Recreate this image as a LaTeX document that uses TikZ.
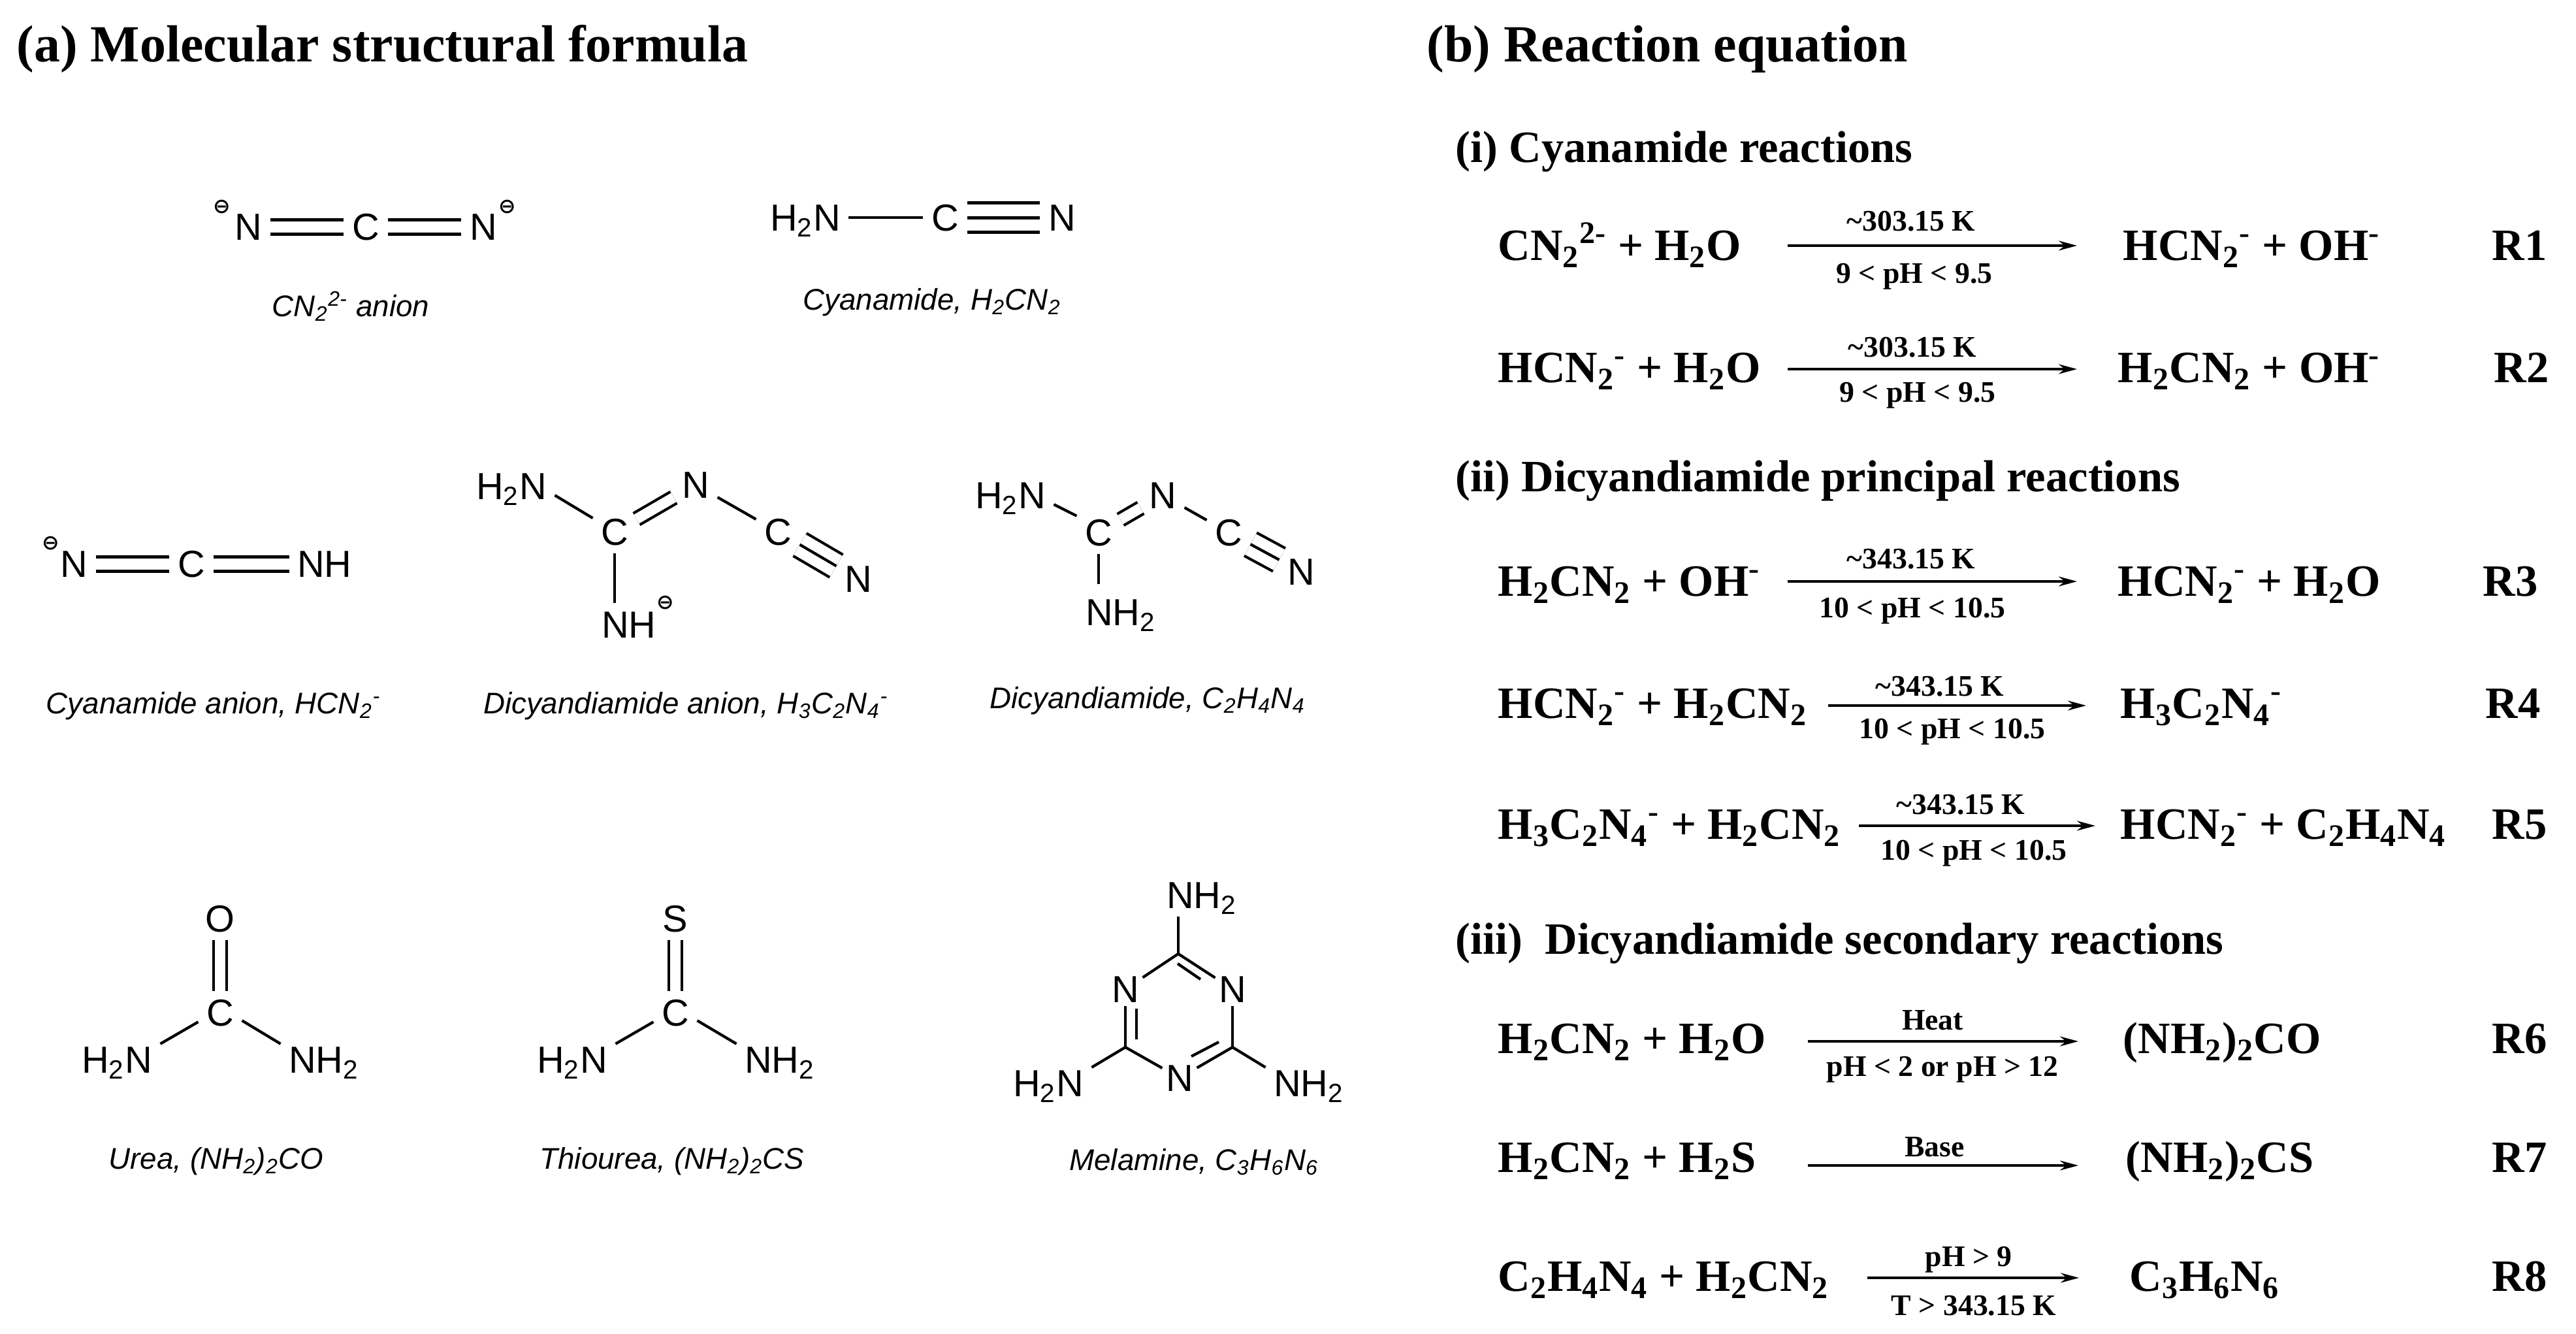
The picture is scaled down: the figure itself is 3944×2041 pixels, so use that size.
\documentclass[tikz,border=0pt]{standalone}
\usepackage{fontspec}
\setmainfont{Liberation Serif}
\setsansfont{Liberation Sans}
\newfontfamily\chargefont{DejaVu Sans Bold}
\usetikzlibrary{arrows.meta,positioning}
\newcommand{\Low}[1]{\textsubscript{#1}}
\newcommand{\High}[1]{\textsuperscript{#1}}
\tikzstyle{Atom} = [inner sep=0.12cm, text height=0.41cm, text depth=0pt, font=\sffamily\fontsize{16.4pt}{18pt}\selectfont]
\tikzstyle{RingAtom} = [Atom, inner sep=0.05cm]
\tikzstyle{Charge} = [inner sep=0pt, font=\chargefont\fontsize{9pt}{10pt}\selectfont]
\tikzstyle{Caption} = [inner sep=0pt, text height=0.36cm, text depth=0.12cm, font=\sffamily\itshape\fontsize{13pt}{15pt}\selectfont]
\tikzstyle{Title} = [anchor=west, inner sep=0pt, text height=0.53cm, text depth=0pt, font=\bfseries\fontsize{22.7pt}{26pt}\selectfont]
\tikzstyle{Sub} = [Title, text height=0.45cm, font=\bfseries\fontsize{19.5pt}{23pt}\selectfont]
\tikzstyle{Eq} = [anchor=west, inner sep=0pt, text height=0.45cm, text depth=0pt, font=\bfseries\fontsize{19.5pt}{23pt}\selectfont]
\tikzstyle{Cond} = [inner sep=0pt, text height=0.31cm, text depth=0pt, font=\bfseries\fontsize{13pt}{15pt}\selectfont]
\tikzstyle{Bond} = [line width=0.042cm]
\tikzstyle{Double} = [Bond, double, double distance between line centers=0.2cm]
\tikzstyle{LongDouble} = [line width=0.05cm, double, double distance between line centers=0.22cm]
\tikzstyle{Triple} = [Bond, double, double distance between line centers=0.4cm]
\tikzstyle{LongTriple} = [line width=0.05cm, double, double distance between line centers=0.45cm]
\tikzstyle{Arrow} = [line width=0.035cm, -{Stealth[length=0.28cm,width=0.15cm]}]

\begin{document}
\begin{tikzpicture}[x=0.01cm, y=-0.01cm]
  \useasboundingbox (0,0) rectangle (3944,2041);
  \node[Title] (t_a) at (25,68) {(a) Molecular structural formula};
  \node[Title] (t_b) at (2184,68) {(b) Reaction equation};

  % anion CN2
  \node[Atom] (a1_n1) at (380,347) {N};
  \node[Atom] (a1_c)  at (560,347) {C};
  \node[Atom] (a1_n2) at (740,347) {N};
  \node[Charge] (a1_q1) at (340,317) {⊖};
  \node[Charge] (a1_q2) at (777,317) {⊖};
  \node[Caption] (a1_cap) at (537,472) {CN\Low{2}\High{2-} anion};
  \draw[LongDouble] (a1_n1) -- (a1_c);
  \draw[LongDouble] (a1_c) -- (a1_n2);

  % cyanamide
  \node[Atom] (a2_h) at (1233,333) {H\Low{2}N};
  \node[Atom] (a2_c) at (1447,333) {C};
  \node[Atom] (a2_n) at (1626,333) {N};
  \node[Caption] (a2_cap) at (1427,462) {Cyanamide, H\Low{2}CN\Low{2}};
  \draw[Bond] (a2_h) -- (a2_c);
  \draw[LongTriple] (a2_c) -- (a2_n);
  \draw[line width=0.05cm] (a2_c) -- (a2_n);

  % cyanamide anion
  \node[Atom] (a3_n) at (113,863) {N};
  \node[Atom] (a3_c) at (293,863) {C};
  \node[Atom] (a3_h) at (497,863) {NH};
  \node[Charge] (a3_q) at (78,832) {⊖};
  \node[Caption] (a3_cap) at (327,1080) {Cyanamide anion, HCN\Low{2}\High{-}};
  \draw[LongDouble] (a3_n) -- (a3_c);
  \draw[LongDouble] (a3_c) -- (a3_h);

  % dicyandiamide anion
  \node[Atom] (a4_h)  at (783,744) {H\Low{2}N};
  \node[Atom] (a4_c1) at (941,814) {C};
  \node[Atom] (a4_n1) at (1065,742) {N};
  \node[Atom] (a4_c2) at (1191,814) {C};
  \node[Atom] (a4_n2) at (1314,886) {N};
  \node[Atom] (a4_m)  at (963,956) {NH};
  \node[Charge] (a4_q) at (1019,923) {⊖};
  \node[Caption] (a4_cap) at (1050,1080) {Dicyandiamide anion, H\Low{3}C\Low{2}N\Low{4}\High{-}};
  \draw[Bond] (a4_h.-12) -- (a4_c1.148);
  \draw[Double] (a4_c1) -- (a4_n1);
  \draw[Bond] (a4_n1) -- (a4_c2);
  \draw[Triple] (a4_c2) -- (a4_n2);
  \draw[Bond] (a4_c2) -- (a4_n2);
  \draw[Bond] (a4_c1) -- (a4_c1 |- a4_m.north);

  % dicyandiamide
  \node[Atom] (a5_h)  at (1547,758) {H\Low{2}N};
  \node[Atom] (a5_c1) at (1682,815) {C};
  \node[Atom] (a5_n1) at (1780,758) {N};
  \node[Atom] (a5_c2) at (1881,815) {C};
  \node[Atom] (a5_n2) at (1992,875) {N};
  \node[Atom] (a5_m)  at (1716,937) {NH\Low{2}};
  \node[Caption] (a5_cap) at (1757,1072) {Dicyandiamide, C\Low{2}H\Low{4}N\Low{4}};
  \draw[Bond] (a5_h.-12) -- (a5_c1.143);
  \draw[Double] (a5_c1) -- (a5_n1);
  \draw[Bond] (a5_n1) -- (a5_c2);
  \draw[Triple] (a5_c2) -- (a5_n2);
  \draw[Bond] (a5_c2) -- (a5_n2);
  \draw[Bond, shorten >=0.1cm] (a5_c1) -- (a5_c1 |- a5_m.north);

  % urea
  \node[Atom] (a6_o) at (337,1406) {O};
  \node[Atom] (a6_c) at (337,1550) {C};
  \node[Atom] (a6_h) at (179,1622) {H\Low{2}N};
  \node[Atom] (a6_m) at (496,1622) {NH\Low{2}};
  \node[Caption] (a6_cap) at (331,1777) {Urea, (NH\Low{2})\Low{2}CO};
  \draw[Double] (a6_o) -- (a6_c);
  \draw[Bond] (a6_c.203) -- (a6_h.20);
  \draw[Bond] (a6_c.-20) -- (a6_m.160);

  % thiourea
  \node[Atom] (a7_s) at (1034,1406) {S};
  \node[Atom] (a7_c) at (1034,1550) {C};
  \node[Atom] (a7_h) at (876,1622) {H\Low{2}N};
  \node[Atom] (a7_m) at (1194,1622) {NH\Low{2}};
  \node[Caption] (a7_cap) at (1029,1777) {Thiourea, (NH\Low{2})\Low{2}CS};
  \draw[Double] (a7_s) -- (a7_c);
  \draw[Bond] (a7_c.203) -- (a7_h.20);
  \draw[Bond] (a7_c.-20) -- (a7_m.160);

  % melamine
  \coordinate (a8_c1) at (1804,1460);
  \coordinate (a8_c2) at (1723,1603);
  \coordinate (a8_c3) at (1887,1603);
  \coordinate (a8_i1) at (1803,1475);
  \coordinate (a8_i2) at (1838,1499);
  \coordinate (a8_i3) at (1740,1544);
  \coordinate (a8_i4) at (1740,1591);
  \coordinate (a8_i5) at (1866,1595);
  \coordinate (a8_i6) at (1824,1617);
  \node[RingAtom] (a8_n1) at (1723,1514) {N};
  \node[RingAtom] (a8_n2) at (1887,1514) {N};
  \node[RingAtom] (a8_n3) at (1806,1650) {N};
  \node[Atom] (a8_m1) at (1840,1370) {NH\Low{2}};
  \node[Atom] (a8_m2) at (1605,1658) {H\Low{2}N};
  \node[Atom] (a8_m3) at (2004,1658) {NH\Low{2}};
  \node[Caption] (a8_cap) at (1828,1779) {Melamine, C\Low{3}H\Low{6}N\Low{6}};
  \draw[Bond] (a8_c1) -- (a8_c1 |- a8_m1.south);
  \draw[Bond] (a8_c1) -- (a8_n1);
  \draw[Bond] (a8_c1) -- (a8_n2);
  \draw[Bond] (a8_i1) -- (a8_i2);
  \draw[Bond] (a8_n1) -- (a8_c2);
  \draw[Bond] (a8_i3) -- (a8_i4);
  \draw[Bond] (a8_n2) -- (a8_c3);
  \draw[Bond] (a8_c2) -- (a8_n3);
  \draw[Bond] (a8_c3) -- (a8_n3);
  \draw[Bond] (a8_i5) -- (a8_i6);
  \draw[Bond] (a8_c2) -- (a8_m2.20);
  \draw[Bond] (a8_c3) -- (a8_m3.160);

  % (i)
  \node[Sub] (s_1) at (2228,226) {(i) Cyanamide reactions};
  \coordinate (r1_a) at (2737,376);
  \coordinate (r1_b) at (3180,376);
  \node[Eq] (r1_l) at (2293,376) {CN\Low{2}\High{2-} + H\Low{2}O};
  \node[Eq] (r1_p) at (3250,376) {HCN\Low{2}\High{-} + OH\High{-}};
  \node[Eq] (r1_n) at (3815,376) {R1};
  \node[Cond] (r1_t) at (2926,338) {\textasciitilde303.15 K};
  \node[Cond] (r1_u) at (2931,418) {9 < pH < 9.5};
  \draw[Arrow] (r1_a) -- (r1_b);

  \coordinate (r2_a) at (2737,565);
  \coordinate (r2_b) at (3180,565);
  \node[Eq] (r2_l) at (2293,563) {HCN\Low{2}\High{-} + H\Low{2}O};
  \node[Eq] (r2_p) at (3242,563) {H\Low{2}CN\Low{2} + OH\High{-}};
  \node[Eq] (r2_n) at (3818,563) {R2};
  \node[Cond] (r2_t) at (2928,531) {\textasciitilde303.15 K};
  \node[Cond] (r2_u) at (2936,600) {9 < pH < 9.5};
  \draw[Arrow] (r2_a) -- (r2_b);

  % (ii)
  \node[Sub] (s_2) at (2228,730) {(ii) Dicyandiamide principal reactions};
  \coordinate (r3_a) at (2737,890);
  \coordinate (r3_b) at (3180,890);
  \node[Eq] (r3_l) at (2293,890) {H\Low{2}CN\Low{2} + OH\High{-}};
  \node[Eq] (r3_p) at (3242,890) {HCN\Low{2}\High{-} + H\Low{2}O};
  \node[Eq] (r3_n) at (3801,890) {R3};
  \node[Cond] (r3_t) at (2926,855) {\textasciitilde343.15 K};
  \node[Cond] (r3_u) at (2928,930) {10 < pH < 10.5};
  \draw[Arrow] (r3_a) -- (r3_b);

  \coordinate (r4_a) at (2799,1080);
  \coordinate (r4_b) at (3194,1080);
  \node[Eq] (r4_l) at (2293,1077) {HCN\Low{2}\High{-} + H\Low{2}CN\Low{2}};
  \node[Eq] (r4_p) at (3246,1077) {H\Low{3}C\Low{2}N\Low{4}\High{-}};
  \node[Eq] (r4_n) at (3805,1077) {R4};
  \node[Cond] (r4_t) at (2970,1050) {\textasciitilde343.15 K};
  \node[Cond] (r4_u) at (2989,1115) {10 < pH < 10.5};
  \draw[Arrow] (r4_a) -- (r4_b);

  \coordinate (r5_a) at (2846,1264);
  \coordinate (r5_b) at (3208,1264);
  \node[Eq] (r5_l) at (2293,1262) {H\Low{3}C\Low{2}N\Low{4}\High{-} + H\Low{2}CN\Low{2}};
  \node[Eq] (r5_p) at (3246,1262) {HCN\Low{2}\High{-} + C\Low{2}H\Low{4}N\Low{4}};
  \node[Eq] (r5_n) at (3815,1262) {R5};
  \node[Cond] (r5_t) at (3002,1231) {\textasciitilde343.15 K};
  \node[Cond] (r5_u) at (3022,1301) {10 < pH < 10.5};
  \draw[Arrow] (r5_a) -- (r5_b);

  % (iii)
  \node[Sub] (s_3) at (2228,1438) {(iii)\ \ Dicyandiamide secondary reactions};
  \coordinate (r6_a) at (2768,1594);
  \coordinate (r6_b) at (3182,1594);
  \node[Eq] (r6_l) at (2293,1590) {H\Low{2}CN\Low{2} + H\Low{2}O};
  \node[Eq] (r6_p) at (3250,1590) {(NH\Low{2})\Low{2}CO};
  \node[Eq] (r6_n) at (3815,1590) {R6};
  \node[Cond] (r6_t) at (2959,1561) {Heat};
  \node[Cond] (r6_u) at (2974,1632) {pH < 2 or pH > 12};
  \draw[Arrow] (r6_a) -- (r6_b);

  \coordinate (r7_a) at (2768,1784);
  \coordinate (r7_b) at (3182,1784);
  \node[Eq] (r7_l) at (2293,1772) {H\Low{2}CN\Low{2} + H\Low{2}S};
  \node[Eq] (r7_p) at (3254,1772) {(NH\Low{2})\Low{2}CS};
  \node[Eq] (r7_n) at (3815,1772) {R7};
  \node[Cond] (r7_t) at (2962,1755) {Base};
  \draw[Arrow] (r7_a) -- (r7_b);

  \coordinate (r8_a) at (2859,1956);
  \coordinate (r8_b) at (3183,1956);
  \node[Eq] (r8_l) at (2293,1954) {C\Low{2}H\Low{4}N\Low{4} + H\Low{2}CN\Low{2}};
  \node[Eq] (r8_p) at (3260,1954) {C\Low{3}H\Low{6}N\Low{6}};
  \node[Eq] (r8_n) at (3815,1954) {R8};
  \node[Cond] (r8_t) at (3014,1923) {pH > 9};
  \node[Cond] (r8_u) at (3022,1998) {T > 343.15 K};
  \draw[Arrow] (r8_a) -- (r8_b);
\end{tikzpicture}
\end{document}
